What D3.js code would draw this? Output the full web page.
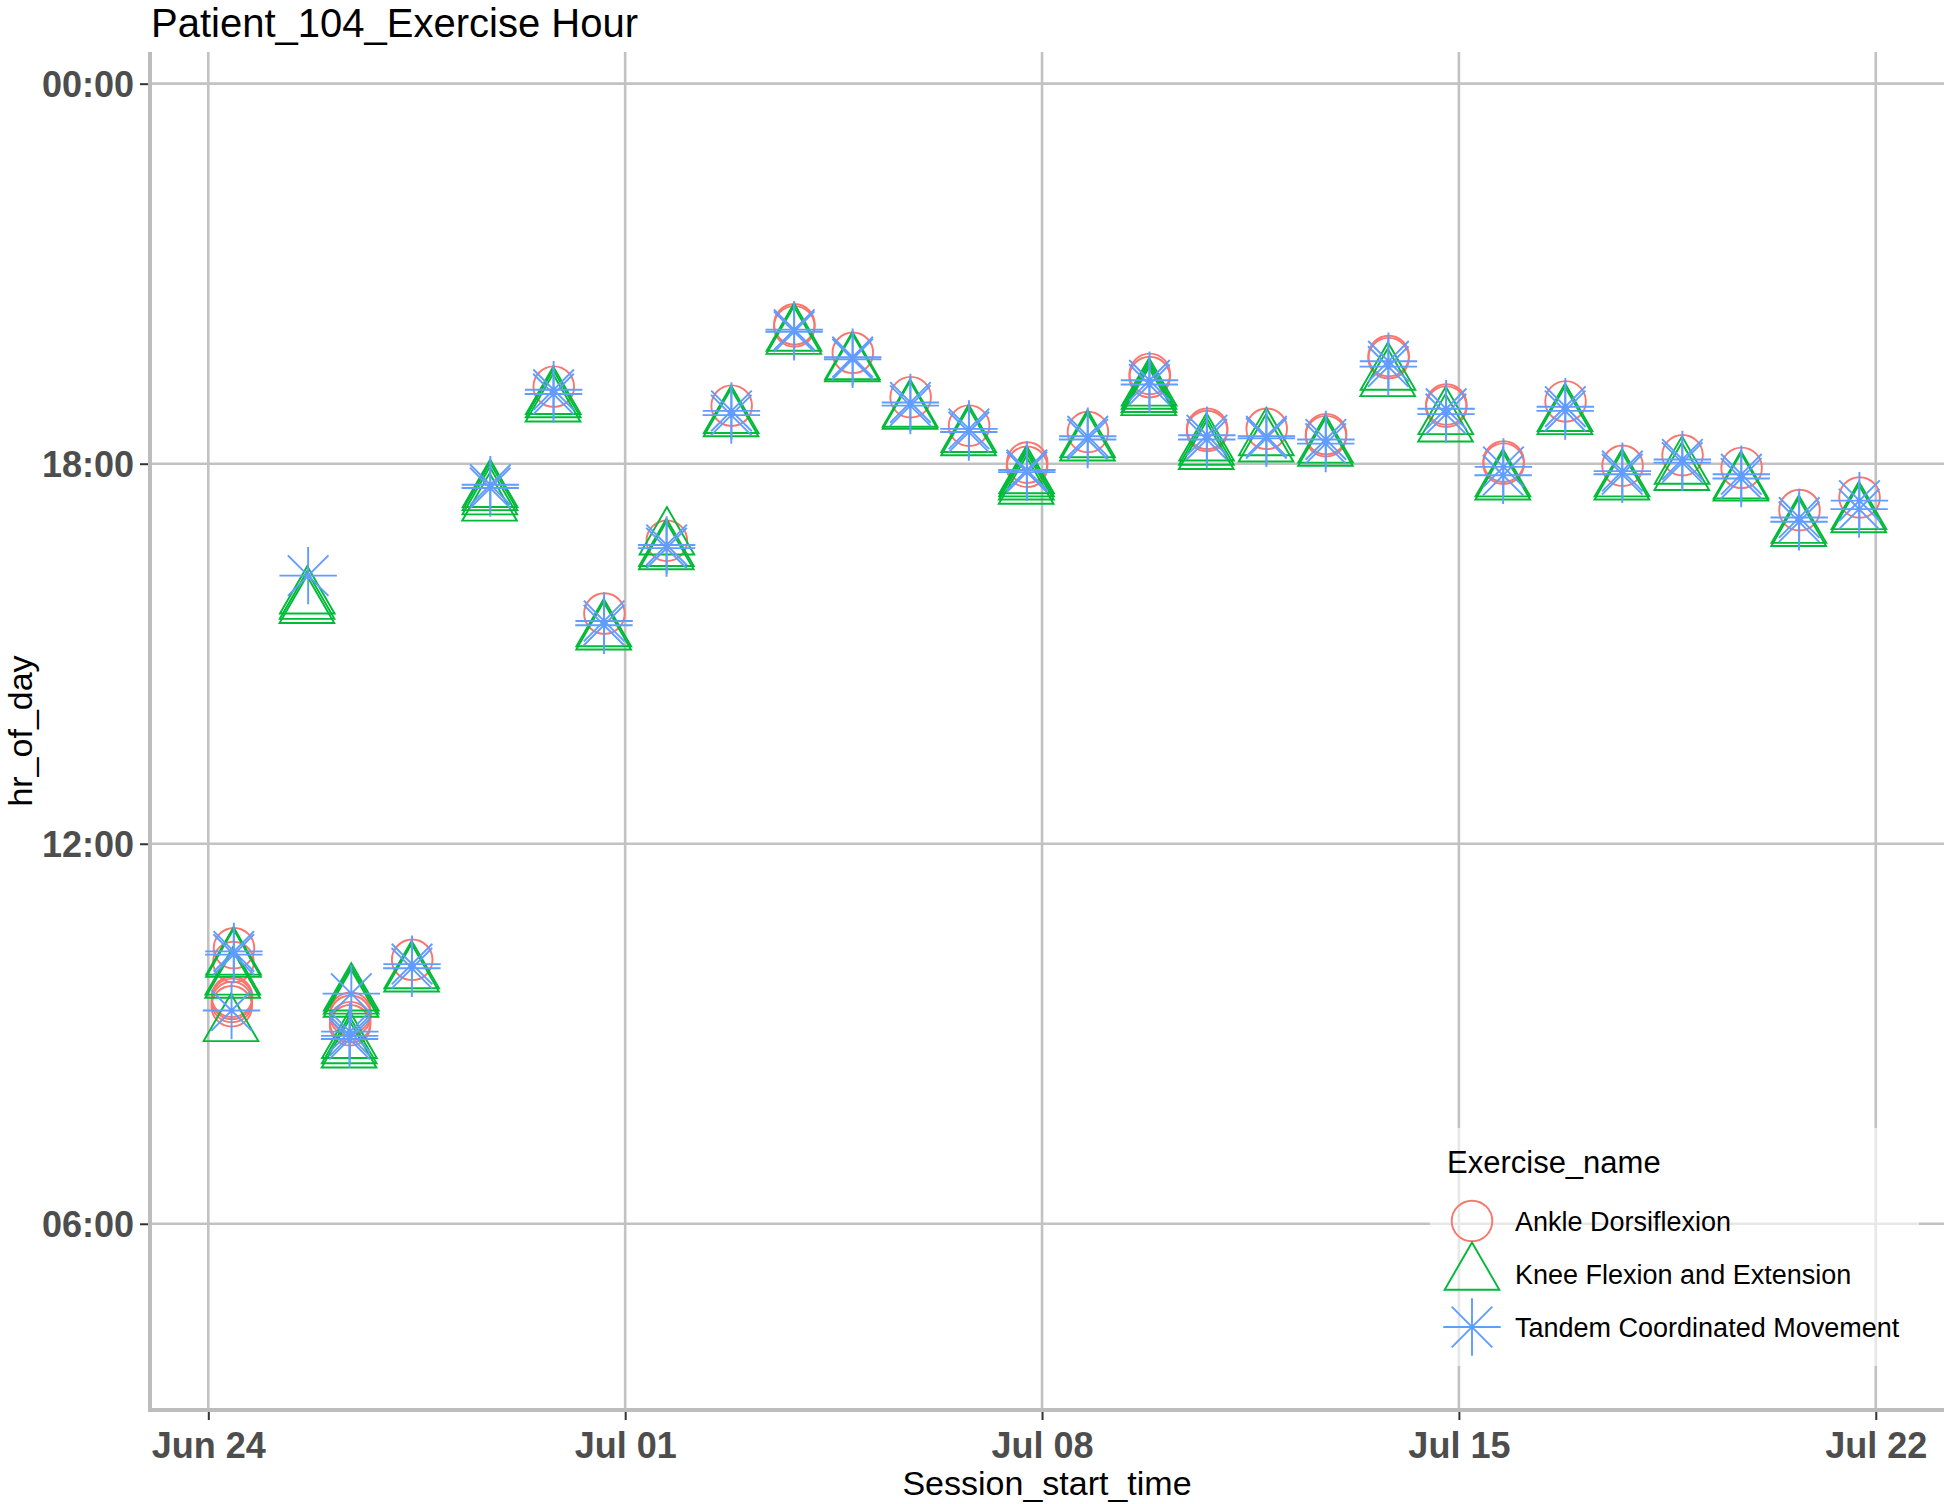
<!DOCTYPE html>
<html>
<head>
<meta charset="utf-8">
<script src="https://cdn.jsdelivr.net/npm/d3@7"></script>
<style>
  html, body { margin: 0; padding: 0; background: #fff; }
  svg { display: block; }
  text { font-family: "Liberation Sans", Arial, Helvetica, sans-serif; }
</style>
</head>
<body>
<svg id="chart" width="1944" height="1504"></svg>
<script>
// ---------------- data (session start times) ----------------
const seriesNames = ["Ankle Dorsiflexion", "Knee Flexion and Extension", "Tandem Coordinated Movement"];
const seriesColors = ["#F8766D", "#00BA38", "#619CFF"];

const ankleTimes = [
  "06-24 10:21", "06-24 10:08", "06-24 09:35", "06-24 09:33", "06-24 09:30", "06-24 09:26",
  "06-26 09:20", "06-26 09:17", "06-26 09:11", "06-26 09:08",
  "06-27 10:10", "06-29 19:13", "06-30 15:38", "07-01 16:47", "07-02 18:55",
  "07-03 20:12", "07-03 20:10", "07-04 19:45", "07-05 19:03", "07-06 18:36",
  "07-07 18:01", "07-07 17:57", "07-08 18:30", "07-09 19:25", "07-09 19:22",
  "07-10 18:33", "07-10 18:31", "07-11 18:33", "07-12 18:28", "07-12 18:26",
  "07-13 19:42", "07-13 19:40", "07-14 18:56", "07-14 18:54", "07-15 18:02", "07-15 18:00",
  "07-16 18:59", "07-17 17:58", "07-18 18:08", "07-19 17:56", "07-20 17:16", "07-21 17:28"
];
const kneeTimes = [
  "06-24 10:11", "06-24 10:09", "06-24 09:52", "06-24 09:49", "06-24 09:08",
  "06-25 15:53", "06-25 15:48", "06-25 15:44",
  "06-26 09:37", "06-26 09:34", "06-26 09:31", "06-26 08:52", "06-26 08:47", "06-26 08:43",
  "06-27 09:58", "06-27 09:55",
  "06-28 17:34", "06-28 17:31", "06-28 17:27", "06-28 17:21",
  "06-29 19:02", "06-29 18:59", "06-29 18:55",
  "06-30 15:22", "06-30 15:19",
  "07-01 16:49", "07-01 16:38", "07-01 16:35",
  "07-02 18:44", "07-02 18:41", "07-03 20:02", "07-03 19:59", "07-04 19:35", "07-04 19:33",
  "07-05 18:50", "07-05 18:48", "07-06 18:26", "07-06 18:23",
  "07-07 17:47", "07-07 17:44", "07-07 17:41", "07-07 17:37",
  "07-08 18:21", "07-08 18:18",
  "07-09 19:10", "07-09 19:07", "07-09 19:04", "07-09 19:01",
  "07-10 18:18", "07-10 18:14", "07-10 18:10",
  "07-11 18:23", "07-11 18:17", "07-12 18:16", "07-12 18:13",
  "07-13 19:25", "07-13 19:19", "07-14 18:43", "07-14 18:36",
  "07-15 17:44", "07-15 17:41", "07-16 18:46", "07-16 18:43",
  "07-17 17:44", "07-17 17:41", "07-18 17:56", "07-18 17:50",
  "07-19 17:42", "07-19 17:40", "07-20 17:00", "07-20 16:57", "07-21 17:13", "07-21 17:10"
];
const tandemTimes = [
  "06-24 10:18", "06-24 10:15", "06-24 09:22",
  "06-25 16:14",
  "06-26 09:38", "06-26 09:02", "06-26 08:58", "06-26 08:55",
  "06-27 10:06", "06-27 10:02", "06-28 17:40", "06-28 17:37",
  "06-29 19:10", "06-29 19:06", "06-30 15:31", "06-30 15:27",
  "07-01 16:43", "07-01 16:40", "07-02 18:50", "07-02 18:46",
  "07-03 20:07", "07-03 20:05", "07-04 19:41", "07-04 19:39",
  "07-05 18:58", "07-05 18:55", "07-06 18:33", "07-06 18:30",
  "07-07 17:54", "07-07 17:52", "07-08 18:26", "07-08 18:23",
  "07-09 19:19", "07-09 19:15", "07-10 18:27", "07-10 18:23",
  "07-11 18:26", "07-11 18:24", "07-12 18:23", "07-12 18:19",
  "07-13 19:37", "07-13 19:32", "07-14 18:52", "07-14 18:47",
  "07-15 17:57", "07-15 17:49", "07-16 18:54", "07-16 18:50",
  "07-17 17:53", "07-17 17:50", "07-18 18:04", "07-18 18:01",
  "07-19 17:50", "07-19 17:46", "07-20 17:09", "07-20 17:05", "07-21 17:25", "07-21 17:17"
];

const xTickValues = ["06-24 00:00", "07-01 00:00", "07-08 00:00", "07-15 00:00", "07-22 00:00"];
const xTickLabels = ["Jun 24", "Jul 01", "Jul 08", "Jul 15", "Jul 22"];
const yTickValues = [6, 12, 18, 24];
const yTickLabels = ["06:00", "12:00", "18:00", "00:00"];
const xDomain = ["06-23 00:30", "07-23 03:30"];
const yDomain = [3.06, 24.5];

// ---------------- helpers ----------------
const YEAR = 2018;
function parseTime(s) {
  const [md, hm] = s.split(" ");
  const [mo, d] = md.split("-").map(Number);
  const [h, mi] = hm.split(":").map(Number);
  return new Date(YEAR, mo - 1, d, h, mi);
}
function hourOfDay(s) {
  const [h, mi] = s.split(" ")[1].split(":").map(Number);
  return h + mi / 60;
}

// ---------------- layout ----------------
const svg = d3.select("#chart");
const panel = { left: 150, right: 1944, top: 52, bottom: 1410 };

const x = d3.scaleTime().domain(xDomain.map(parseTime)).range([panel.left, panel.right]);
const y = d3.scaleLinear().domain(yDomain).range([panel.bottom, panel.top]);

const gridColor = "#c2c2c2";

// gridlines
const grid = svg.append("g");
grid.selectAll("line.h").data(yTickValues).join("line")
  .attr("x1", panel.left).attr("x2", panel.right)
  .attr("y1", d => y(d)).attr("y2", d => y(d))
  .attr("stroke", gridColor).attr("stroke-width", 2.6);
grid.selectAll("line.v").data(xTickValues.map(parseTime)).join("line")
  .attr("x1", d => x(d)).attr("x2", d => x(d))
  .attr("y1", panel.top).attr("y2", panel.bottom)
  .attr("stroke", gridColor).attr("stroke-width", 2.6);

// axes lines
svg.append("line").attr("x1", panel.left).attr("x2", panel.left)
  .attr("y1", panel.top).attr("y2", panel.bottom + 2)
  .attr("stroke", "#bdbdbd").attr("stroke-width", 4);
svg.append("line").attr("x1", panel.left - 2).attr("x2", panel.right)
  .attr("y1", panel.bottom).attr("y2", panel.bottom)
  .attr("stroke", "#bdbdbd").attr("stroke-width", 4);

// axes via d3
const xAxis = d3.axisBottom(x)
  .tickValues(xTickValues.map(parseTime))
  .tickFormat((d, i) => xTickLabels[i])
  .tickSize(8).tickPadding(12);
const gx = svg.append("g").attr("transform", `translate(0,${panel.bottom + 2})`).call(xAxis);
gx.select(".domain").remove();
gx.selectAll(".tick line").attr("stroke", "#333").attr("stroke-width", 2);
gx.selectAll(".tick text")
  .attr("font-family", "'Liberation Sans', Arial, sans-serif")
  .attr("font-size", 36).attr("font-weight", "bold").attr("fill", "#4D4D4D");

const yAxis = d3.axisLeft(y)
  .tickValues(yTickValues)
  .tickFormat((d, i) => yTickLabels[i])
  .tickSize(8).tickPadding(6);
const gy = svg.append("g").attr("transform", `translate(${panel.left - 2},0)`).call(yAxis);
gy.select(".domain").remove();
gy.selectAll(".tick line").attr("stroke", "#333").attr("stroke-width", 2);
gy.selectAll(".tick text")
  .attr("font-family", "'Liberation Sans', Arial, sans-serif")
  .attr("font-size", 36).attr("font-weight", "bold").attr("fill", "#4D4D4D")
  .attr("dy", "0.36em");

// ---------------- markers ----------------
const R = 20.3;          // circle radius
const TR = 1.5551 * R;   // triangle apex distance
function circlePath(cx, cy) {
  return `M${cx + R},${cy}A${R},${R} 0 1,1 ${cx - R},${cy}A${R},${R} 0 1,1 ${cx + R},${cy}Z`;
}
function trianglePath(cx, cy) {
  const xc = TR * Math.sqrt(3) / 2, yc = TR / 2;
  return `M${cx},${cy - TR}L${cx + xc},${cy + yc}L${cx - xc},${cy + yc}Z`;
}
function asteriskPath(cx, cy) {
  const a = R, b = Math.SQRT2 * R;
  return `M${cx - a},${cy - a}L${cx + a},${cy + a}M${cx - a},${cy + a}L${cx + a},${cy - a}` +
         `M${cx - b},${cy}L${cx + b},${cy}M${cx},${cy - b}L${cx},${cy + b}`;
}
const shapeFns = [circlePath, trianglePath, asteriskPath];
const allSeries = [ankleTimes, kneeTimes, tandemTimes];

const pts = svg.append("g");
allSeries.forEach((times, si) => {
  pts.append("g").selectAll("path").data(times).join("path")
    .attr("d", d => shapeFns[si](x(parseTime(d)), y(hourOfDay(d))))
    .attr("fill", "none")
    .attr("stroke", seriesColors[si])
    .attr("stroke-width", 1.9);
});

// ---------------- titles ----------------
svg.append("text").attr("x", 151).attr("y", 37)
  .attr("font-size", 40).attr("fill", "#000").text("Patient_104_Exercise Hour");
svg.append("text").attr("x", (panel.left + panel.right) / 2).attr("y", 1495)
  .attr("text-anchor", "middle").attr("font-size", 34).attr("fill", "#000").text("Session_start_time");
svg.append("text").attr("transform", `translate(32,${(panel.top + panel.bottom) / 2}) rotate(-90)`)
  .attr("text-anchor", "middle").attr("font-size", 34).attr("fill", "#000").text("hr_of_day");

// ---------------- legend ----------------
const lg = svg.append("g");
lg.append("rect").attr("x", 1430).attr("y", 1128).attr("width", 489).attr("height", 238)
  .attr("fill", "rgba(255,255,255,0.6)");
lg.append("text").attr("x", 1447).attr("y", 1173).attr("font-size", 31).attr("fill", "#000")
  .text("Exercise_name");
const keyY = [1221, 1274, 1327];
seriesNames.forEach((name, i) => {
  lg.append("path").attr("d", shapeFns[i](1472, keyY[i]))
    .attr("fill", "none").attr("stroke", seriesColors[i]).attr("stroke-width", 1.9);
  lg.append("text").attr("x", 1515).attr("y", keyY[i]).attr("dy", "0.36em")
    .attr("font-size", 27).attr("fill", "#000").text(name);
});
</script>
</body>
</html>
